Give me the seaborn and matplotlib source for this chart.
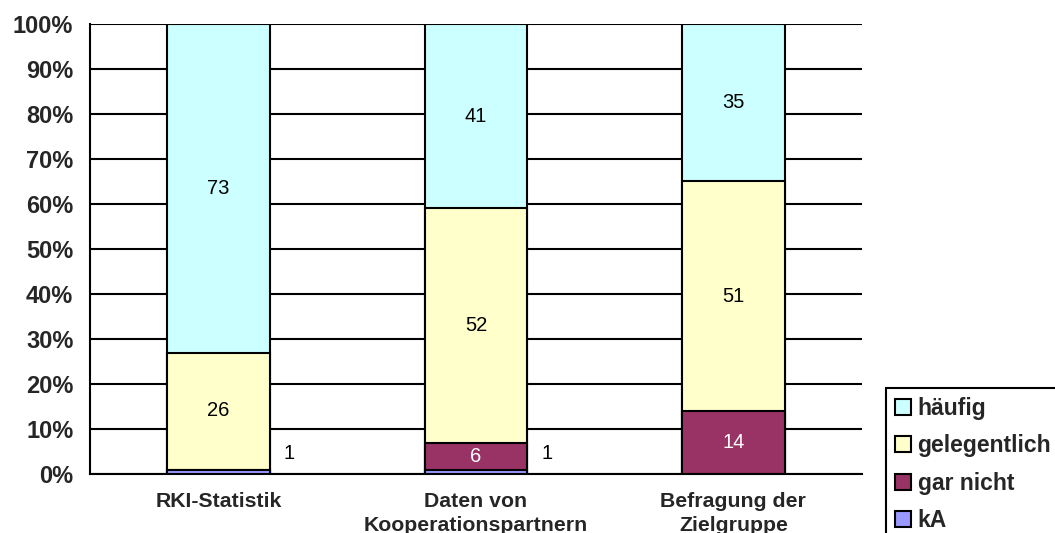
import numpy as np
import pandas as pd
import seaborn as sns
import matplotlib.pyplot as plt
from matplotlib.patches import Patch

# Data (percent per source)
categories = ['RKI-Statistik', 'Daten von\nKooperationspartnern', 'Befragung der\nZielgruppe']
series = ['häufig', 'gelegentlich', 'gar nicht', 'kA']
haeufig = [73, 41, 35]
gelegentlich = [26, 52, 51]
gar_nicht = [0, 6, 14]
k_a = [1, 1, 0]
colors = ['#CCFFFF', '#FFFFCC', '#993366', '#9999FF']


def plot_stacked():
    sns.set_style('white')
    plt.rcParams['font.family'] = ['Liberation Sans', 'DejaVu Sans']

    fig = plt.figure(figsize=(10.55, 5.33), dpi=100)
    ax = fig.add_axes([90 / 1055, 1 - 474 / 533, (862 - 90) / 1055, 450 / 533])

    # stacking order bottom -> top: kA, gar nicht, gelegentlich, häufig
    layers = [k_a, gar_nicht, gelegentlich, haeufig]
    layer_cols = [colors[3], colors[2], colors[1], colors[0]]
    cum = np.cumsum(np.array(layers, dtype=float), axis=0)

    # draw cumulative heights from the top so each layer covers the one above
    for i in range(len(layers) - 1, -1, -1):
        df = pd.DataFrame({'cat': categories, 'val': cum[i]})
        sns.barplot(data=df, x='cat', y='val', color=layer_cols[i], width=0.4,
                    edgecolor='black', linewidth=1.5, saturation=1, ax=ax, zorder=3)

    # data labels
    for j in range(len(categories)):
        bottom = 0
        for i, vals in enumerate(layers):
            v = vals[j]
            if v >= 5:
                ax.text(j, bottom + v / 2, str(v), ha='center', va='center', fontsize=14.5,
                        color='white' if i == 1 else 'black', zorder=4)
            elif v > 0:
                ax.text(j + 0.2 + 0.075, 4.5, str(v), ha='center', va='center',
                        fontsize=14.5, color='black', zorder=4)
            bottom += v

    ax.set_xlim(-0.5, 2.5)
    ax.set_ylim(0, 100)
    ax.set_yticks(np.arange(0, 101, 10))
    ax.set_yticklabels(['%d%%' % t for t in range(0, 101, 10)], fontsize=17, fontweight='bold')
    ax.set_xticks(range(len(categories)))
    ax.set_xticklabels(categories, fontsize=15.3, fontweight='bold', linespacing=1.35)
    ax.set_xticks([0.5, 1.5, 2.5], minor=True)
    ax.tick_params(axis='x', which='major', length=0, pad=13)
    ax.tick_params(axis='x', which='minor', length=6, width=1.5, direction='out', color='black')
    ax.tick_params(axis='y', length=8, width=1.5, direction='out', color='black', pad=4)
    ax.set_xlabel('')
    ax.set_ylabel('')

    ax.yaxis.grid(True, color='black', linewidth=1.5)
    ax.set_axisbelow(True)
    for s in ['top', 'right']:
        ax.spines[s].set_visible(False)
    for s in ['left', 'bottom']:
        ax.spines[s].set_color('black')
        ax.spines[s].set_linewidth(1.5)

    handles = [Patch(facecolor=c, edgecolor='black', linewidth=1.5) for c in colors]
    leg = fig.legend(handles, series, loc='upper left', bbox_to_anchor=(886 / 1055, 1 - 388 / 533),
                     frameon=True, fancybox=False, edgecolor='black', framealpha=1,
                     prop={'weight': 'bold', 'size': 16.5}, handlelength=0.7, handleheight=0.7,
                     handletextpad=0.28, labelspacing=0.62, borderpad=0.4, borderaxespad=0)
    leg.get_frame().set_linewidth(1.5)

    fig.savefig('out.png', dpi=100)


if __name__ == '__main__':
    plot_stacked()
